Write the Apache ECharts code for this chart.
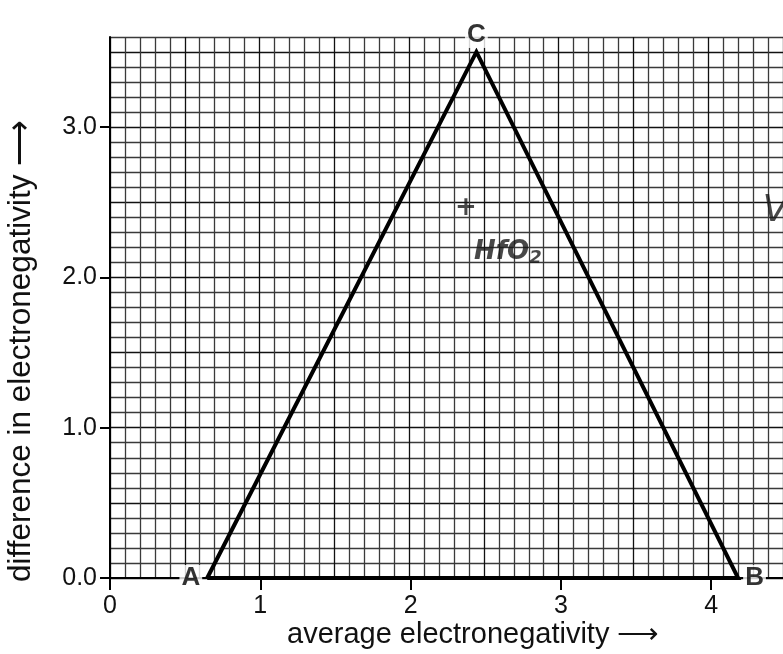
<!DOCTYPE html>
<html>
<head>
<meta charset="utf-8">
<script src="https://cdn.jsdelivr.net/npm/echarts@6/dist/echarts.min.js"></script>
<style>
  html, body { margin: 0; padding: 0; background: #fff; }
  #chart { width: 783px; height: 654px; }
</style>
</head>
<body>
<div id="chart"></div>
<script>
  // corners of the triangle: average electronegativity, difference
  const cornerNames = ['A', 'C', 'B'];
  const cornerX = [0.65, 2.45, 4.2];
  const cornerY = [0, 3.5, 0];

  // handwritten marks on the sheet
  const noteTexts = ['+', 'HfO{s|2}', 'V'];
  const noteX = [2.38, 2.66, 4.45];
  const noteY = [2.46, 2.17, 2.44];

  // paper extent and labelled range
  const paperMaxX = 4.5;
  const paperMaxY = 3.6;
  const labelMaxX = 4;
  const labelMaxY = 3;

  const unit = 150.3; // px per unit on both axes
  const x0 = 110;
  const y0 = 578;

  const tri = [];
  for (let i = 0; i < cornerX.length; i++) tri.push([cornerX[i], cornerY[i]]);
  tri.push([cornerX[0], cornerY[0]]);

  const cornerPos = { A: 'left', B: 'right', C: 'top' };

  const font = 'Liberation Sans, Arial, sans-serif';
  const hand = 'DejaVu Sans, sans-serif';

  const paperLines = ['#111', '#3a3a3a', '#3a3a3a', '#3a3a3a', '#3a3a3a'];

  const chart = echarts.init(document.getElementById('chart'));
  chart.setOption({
    animation: false,
    backgroundColor: '#fff',
    grid: [
      { left: x0, top: y0 - paperMaxY * unit, width: paperMaxX * unit, height: paperMaxY * unit },
      { left: x0, top: y0 - labelMaxY * unit, width: labelMaxX * unit, height: labelMaxY * unit }
    ],
    xAxis: [
      {
        gridIndex: 0, type: 'value', min: 0, max: paperMaxX, interval: 0.1,
        axisLine: { show: true, lineStyle: { color: '#000', width: 2 } },
        axisTick: { show: false }, axisLabel: { show: false },
        splitLine: { show: true, lineStyle: { color: paperLines, width: 1.3 } }
      },
      {
        gridIndex: 1, type: 'value', min: 0, max: labelMaxX, interval: 1,
        axisLine: { show: false },
        axisTick: { show: true, length: 12, lineStyle: { color: '#000', width: 2 } },
        axisLabel: { show: true, margin: 16, color: '#111', fontSize: 25, fontFamily: font },
        splitLine: { show: false }
      }
    ],
    yAxis: [
      {
        gridIndex: 0, type: 'value', min: 0, max: paperMaxY, interval: 0.1,
        axisLine: { show: true, lineStyle: { color: '#000', width: 2 } },
        axisTick: { show: false }, axisLabel: { show: false },
        splitLine: { show: true, lineStyle: { color: paperLines, width: 1.3 } }
      },
      {
        gridIndex: 1, type: 'value', min: 0, max: labelMaxY, interval: 1,
        axisLine: { show: false },
        axisTick: { show: true, length: 10, lineStyle: { color: '#000', width: 2 } },
        axisLabel: {
          show: true, margin: 13, color: '#111', fontSize: 25, fontFamily: font,
          formatter: v => v.toFixed(1)
        },
        splitLine: { show: false }
      }
    ],
    series: [
      {
        type: 'line',
        xAxisIndex: 0, yAxisIndex: 0,
        data: tri,
        symbol: 'none',
        lineStyle: { color: '#000', width: 4, join: 'miter' },
        z: 5
      },
      {
        type: 'scatter',
        xAxisIndex: 0, yAxisIndex: 0,
        symbolSize: 0,
        z: 10,
        data: cornerNames.map((n, i) => ({
          value: [cornerX[i], cornerY[i]],
          label: {
            show: true, formatter: n, position: cornerPos[n],
            distance: n === 'C' ? 4 : 5,
            fontSize: 26, fontWeight: 'bold', fontFamily: font, color: '#000',
            backgroundColor: '#fff', padding: [0, 2, 0, 2]
          }
        }))
      },
      {
        type: 'scatter',
        xAxisIndex: 0, yAxisIndex: 0,
        symbolSize: 0,
        z: 10,
        data: noteTexts.map((t, i) => ({
          value: [noteX[i], noteY[i]],
          label: {
            show: true, formatter: t, position: 'inside',
            fontSize: t === 'V' ? 38 : 26, fontFamily: hand, fontStyle: 'italic',
            fontWeight: t === 'V' ? 'normal' : 'bold',
            color: '#1a1a1a',
            rich: { s: { fontSize: 18, fontFamily: hand, fontStyle: 'italic', fontWeight: 'bold', color: '#1a1a1a', padding: [12, 0, 0, 0] } }
          }
        }))
      }
    ],
    graphic: [
      {
        type: 'text', left: 287, top: 620,
        style: { text: 'average electronegativity ⟶', fontSize: 29, fontFamily: font, fill: '#111' }
      },
      {
        type: 'text', x: 5, y: 582, rotation: Math.PI / 2,
        style: { text: 'difference in electronegativity ⟶', fontSize: 31.5, fontFamily: font, fill: '#111' }
      }
    ]
  });
</script>
</body>
</html>
